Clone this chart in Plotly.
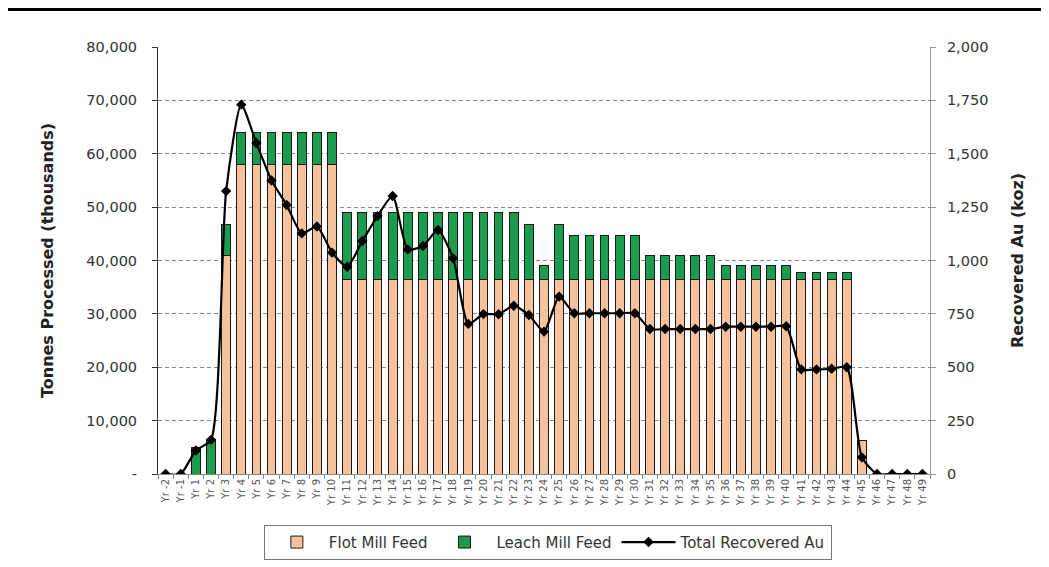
import plotly.graph_objects as go

years = ["Yr -2", "Yr -1"] + [f"Yr {i}" for i in range(1, 50)]

flot_feed = [0, 0, 0, 0, 41000,
             58000, 58000, 58000, 58000, 58000, 58000, 58000,
             36500, 36500, 36500, 36500, 36500, 36500, 36500, 36500, 36500, 36500, 36500, 36500,
             36500, 36500, 36500,
             36500, 36500, 36500, 36500, 36500,
             36500, 36500, 36500, 36500, 36500,
             36500, 36500, 36500, 36500, 36500,
             36500, 36500, 36500, 36500,
             6200, 0, 0, 0, 0]

leach_feed = [0, 0, 4900, 6400, 5700,
              5900, 5900, 5900, 5900, 5900, 5900, 5900,
              12500, 12500, 12500, 12500, 12500, 12500, 12500, 12500, 12500, 12500, 12500, 12500,
              10300, 2500, 10300,
              8100, 8100, 8100, 8100, 8100,
              4500, 4500, 4500, 4500, 4500,
              2500, 2500, 2500, 2500, 2500,
              1200, 1200, 1200, 1200,
              0, 0, 0, 0, 0]

recovered_au = [0, 0, 110, 160, 1325,
                1730, 1550, 1375, 1260, 1127, 1159, 1037,
                971, 1091, 1208, 1302, 1052, 1068, 1143, 1010, 703, 749, 748, 788,
                745, 667, 831,
                753, 753, 753, 753, 753,
                679, 679, 679, 679, 679,
                690, 690, 690, 690, 692,
                490, 490, 493, 500,
                78, 0, 0, 0, 0]

left_ticks = list(range(0, 80001, 10000))
left_ticktext = ["-"] + [f"{v:,}" for v in left_ticks[1:]]
right_ticks = list(range(0, 2001, 250))
right_ticktext = [f"{v:,}" for v in right_ticks]

FONT = "DejaVu Sans, Liberation Sans, Arial, sans-serif"

fig = go.Figure()
fig.add_trace(go.Bar(x=years, y=flot_feed, name="Flot Mill Feed",
                     marker=dict(color="#F6C29C", line=dict(color="#1a1a1a", width=1))))
fig.add_trace(go.Bar(x=years, y=leach_feed, name="Leach Mill Feed",
                     marker=dict(color="#1A9B4D", line=dict(color="#1a1a1a", width=1))))
fig.add_trace(go.Scatter(x=years, y=recovered_au, name="Total Recovered Au", yaxis="y2",
                         mode="lines+markers", line=dict(color="black", width=2.2, shape="spline", smoothing=0.6),
                         marker=dict(symbol="diamond", size=8, color="black")))

fig.update_layout(
    width=1049, height=567,
    margin=dict(l=150, r=127, t=39, b=101),
    paper_bgcolor="white", plot_bgcolor="white",
    barmode="stack", bargap=0.42,
    font=dict(family=FONT, size=14, color="#333333"),
    xaxis=dict(type="category", range=[-0.5, 50.5], tickangle=-90,
               tickfont=dict(size=10, color="#555555"),
               showline=True, linecolor="#888888", linewidth=1,
               ticks="outside", ticklen=4, tickcolor="#888888", tickson="boundaries",
               showgrid=False),
    yaxis=dict(range=[0, 80000], tickvals=left_ticks, ticktext=left_ticktext,
               showline=True, linecolor="#333333", linewidth=1,
               ticks="outside", ticklen=5, tickcolor="#333333", ticklabelstandoff=12,
               showgrid=True, gridcolor="#8a8a8a", griddash="4px,3px", gridwidth=1,
               zeroline=False, tickfont=dict(size=14.5, color="#333333"),
               title=dict(text="<b>Tonnes Processed (thousands)</b>", font=dict(size=16, color="#222222"), standoff=28)),
    yaxis2=dict(range=[0, 2000], tickvals=right_ticks, ticktext=right_ticktext,
                overlaying="y", side="right",
                showline=True, linecolor="#999999", linewidth=1,
                ticks="outside", ticklen=5, tickcolor="#999999", ticklabelstandoff=8,
                showgrid=False, zeroline=False, tickfont=dict(size=14.5, color="#333333"),
                title=dict(text="<b>Recovered Au (koz)</b>", font=dict(size=16, color="#222222"), standoff=24)),
    legend=dict(orientation="h", x=0.505, xanchor="center", y=-0.119, yanchor="top",
                bordercolor="#777777", borderwidth=1, font=dict(size=15, color="#333333"),
                traceorder="normal", itemwidth=54),
    showlegend=True,
)

fig.add_shape(type="line", xref="paper", yref="paper", x0=-0.201, x1=1.165, y0=1.089, y1=1.089,
              line=dict(color="black", width=4))

fig.write_html("out.html")
